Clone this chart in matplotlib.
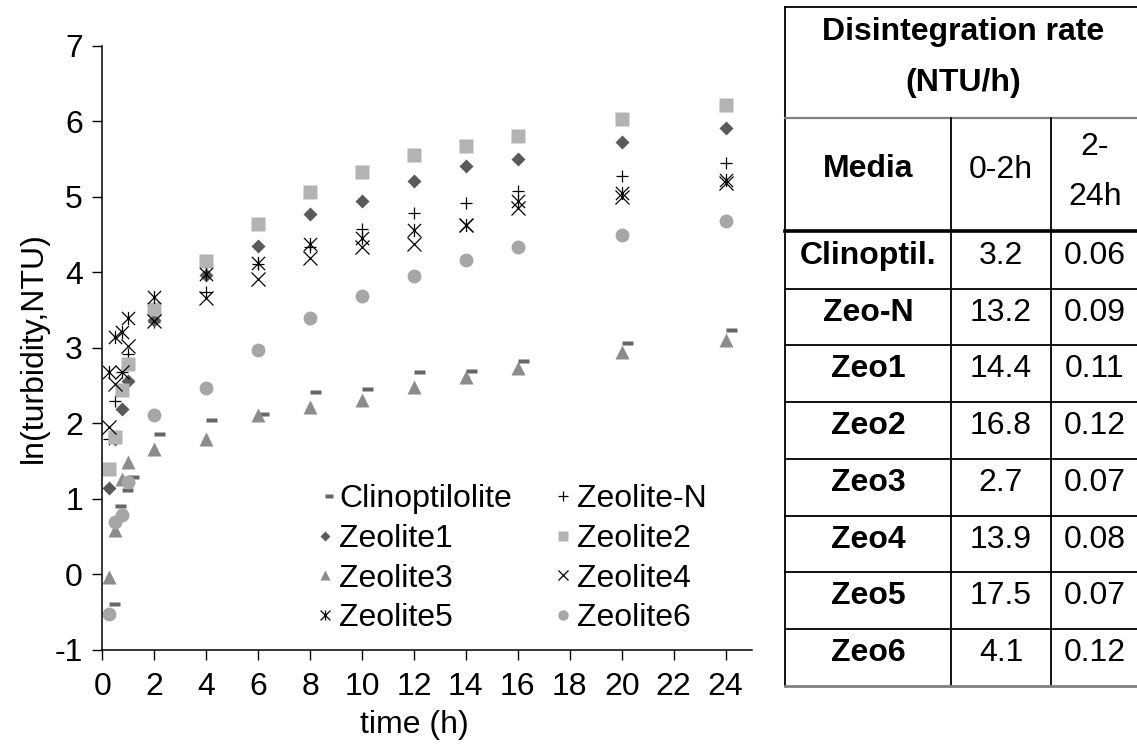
import numpy as np
import matplotlib
matplotlib.use("Agg")
import matplotlib.pyplot as plt
from matplotlib.path import Path

plt.rcParams["font.family"] = ["Liberation Sans", "DejaVu Sans"]
plt.rcParams["axes.unicode_minus"] = False
FS = 23

# sampling times (h)
time_h = [0.25, 0.5, 0.75, 1, 2, 4, 6, 8, 10, 12, 14, 16, 20, 24]

# ln(turbidity, NTU) per medium
clino = [-0.39, 0.90, 1.12, 1.29, 1.86, 2.05, 2.13, 2.41, 2.45, 2.68, 2.70, 2.82, 3.07, 3.24]
zeo_n = [1.80, 2.30, 2.68, 2.92, 3.34, 3.74, 4.11, 4.33, 4.58, 4.79, 4.92, 5.08, 5.27, 5.45]
zeo1 = [1.14, 1.80, 2.19, 2.56, 3.37, 3.96, 4.35, 4.77, 4.94, 5.21, 5.41, 5.50, 5.73, 5.91]
zeo2 = [1.40, 1.82, 2.44, 2.79, 3.52, 4.15, 4.64, 5.06, 5.33, 5.55, 5.67, 5.81, 6.03, 6.22]
zeo3 = [-0.03, 0.59, 1.27, 1.49, 1.66, 1.80, 2.11, 2.22, 2.31, 2.48, 2.61, 2.74, 2.95, 3.11]
zeo4 = [1.95, 2.52, 2.68, 3.03, 3.35, 3.66, 3.91, 4.19, 4.34, 4.38, 4.63, 4.85, 5.00, 5.18]
zeo5 = [2.68, 3.15, 3.21, 3.39, 3.68, 3.98, 4.13, 4.37, 4.45, 4.56, 4.63, 4.94, 5.05, 5.22]
zeo6 = [-0.53, 0.70, 0.79, 1.23, 2.11, 2.47, 2.97, 3.39, 3.69, 3.95, 4.16, 4.33, 4.49, 4.68]

# disintegration-rate table
table_media = ["Clinoptil.", "Zeo-N", "Zeo1", "Zeo2", "Zeo3", "Zeo4", "Zeo5", "Zeo6"]
rate_0_2 = ["3.2", "13.2", "14.4", "16.8", "2.7", "13.9", "17.5", "4.1"]
rate_2_24 = ["0.06", "0.09", "0.11", "0.12", "0.07", "0.08", "0.07", "0.12"]

# excel-like marker shapes: dash sitting right of the point, 6-spoke star
dash = Path([(0.0, -0.2), (1.0, -0.2), (1.0, 0.2), (0.0, 0.2), (0.0, -0.2)],
            [Path.MOVETO, Path.LINETO, Path.LINETO, Path.LINETO, Path.CLOSEPOLY])
star = Path([(-1, -1), (1, 1), (-1, 1), (1, -1), (0, -1), (0, 1)],
            [Path.MOVETO, Path.LINETO, Path.MOVETO, Path.LINETO, Path.MOVETO, Path.LINETO])

series = [
    ("Clinoptilolite", clino, dict(marker=dash, ms=15.5, mfc="#666666", mec="none")),
    ("Zeolite-N", zeo_n, dict(marker="+", ms=9, mec="black", mew=0.9)),
    ("Zeolite1", zeo1, dict(marker="D", ms=7, mfc="#595959", mec="none")),
    ("Zeolite2", zeo2, dict(marker="s", ms=10, mfc="#b3b3b3", mec="none")),
    ("Zeolite3", zeo3, dict(marker="^", ms=10.5, mfc="#8c8c8c", mec="none")),
    ("Zeolite4", zeo4, dict(marker="x", ms=9.5, mec="black", mew=0.9)),
    ("Zeolite5", zeo5, dict(marker=star, ms=9.5, mfc="none", mec="black", mew=0.9)),
    ("Zeolite6", zeo6, dict(marker="o", ms=10, mfc="#a6a6a6", mec="none")),
]

fig = plt.figure(figsize=(11.37, 7.51), dpi=100)
ax = fig.add_axes([0.09, 0.1345, 0.571, 0.8045])

handles = {}
for name, vals, style in series:
    h, = ax.plot(time_h, vals, ls="none", label=name, **style)
    handles[name] = h

ax.set_xlim(0, 25)
ax.set_ylim(-1, 7)
ax.set_xticks(np.arange(0, 25, 2))
ax.set_yticks(np.arange(-1, 8, 1))
ax.tick_params(labelsize=FS, length=7, width=1, direction="out")
ax.tick_params(axis="x", pad=9)
ax.tick_params(axis="y", pad=7)
for side in ["top", "right"]:
    ax.spines[side].set_visible(False)
for side in ["left", "bottom"]:
    ax.spines[side].set_linewidth(1.1)
ax.set_xlabel("time (h)", fontsize=FS)
ax.set_ylabel("ln(turbidity,NTU)", fontsize=FS)
ax.xaxis.set_label_coords(0.48, -0.1)
ax.yaxis.set_label_coords(-0.082, 0.5)

order = ["Clinoptilolite", "Zeolite1", "Zeolite3", "Zeolite5",
         "Zeolite-N", "Zeolite2", "Zeolite4", "Zeolite6"]
ax.legend([handles[n] for n in order], order, ncol=2, frameon=False,
          loc="upper left", bbox_to_anchor=(0.33, 0.274), fontsize=FS,
          handlelength=0.5, handletextpad=0.2, columnspacing=1.35,
          labelspacing=0.3, markerscale=0.75, borderpad=0, borderaxespad=0)

# table panel in pixel coordinates
tab = fig.add_axes([0, 0, 1, 1])
tab.set_xlim(0, 1137)
tab.set_ylim(751, 0)
tab.axis("off")

x_left, x_c1, x_c2, x_right = 785, 951, 1051, 1140
y_top, y_head, y_body = 7, 118, 232
row_h = 56.7
y_bottom = y_body + row_h * len(table_media)

lw = 1.3
tab.plot([x_left, x_right], [y_top, y_top], color="black", lw=lw)
tab.plot([x_left, x_left], [y_top, y_bottom], color="black", lw=lw)
tab.plot([x_left, x_right], [y_head, y_head], color="#808080", lw=1.6)
tab.plot([x_left, x_right], [y_body - 1, y_body - 1], color="black", lw=2.6)
for xc in [x_c1, x_c2]:
    tab.plot([xc, xc], [y_head, y_bottom], color="black", lw=lw)
for i in range(1, len(table_media)):
    yy = y_body + row_h * i
    tab.plot([x_left, x_right], [yy, yy], color="black", lw=lw)
tab.plot([x_left, x_right], [y_bottom, y_bottom], color="#808080", lw=2.0)

tab.text(963, 32, "Disintegration rate", fontsize=FS, fontweight="bold", ha="center", va="center")
tab.text(963, 83, "(NTU/h)", fontsize=FS, fontweight="bold", ha="center", va="center")
tab.text((x_left + x_c1) / 2, 169, "Media", fontsize=FS, fontweight="bold", ha="center", va="center")
tab.text((x_c1 + x_c2) / 2, 170, "0-2h", fontsize=FS, ha="center", va="center")
tab.text(1095, 147, "2-", fontsize=FS, ha="center", va="center")
tab.text(1095, 197, "24h", fontsize=FS, ha="center", va="center")

for i, (m, r1, r2) in enumerate(zip(table_media, rate_0_2, rate_2_24)):
    yy = y_body + row_h * i + 24
    tab.text((x_left + x_c1) / 2, yy, m, fontsize=FS, fontweight="bold", ha="center", va="center")
    tab.text((x_c1 + x_c2) / 2, yy, r1, fontsize=FS, ha="center", va="center")
    tab.text(1095, yy, r2, fontsize=FS, ha="center", va="center")

fig.savefig("out.png", dpi=100)
